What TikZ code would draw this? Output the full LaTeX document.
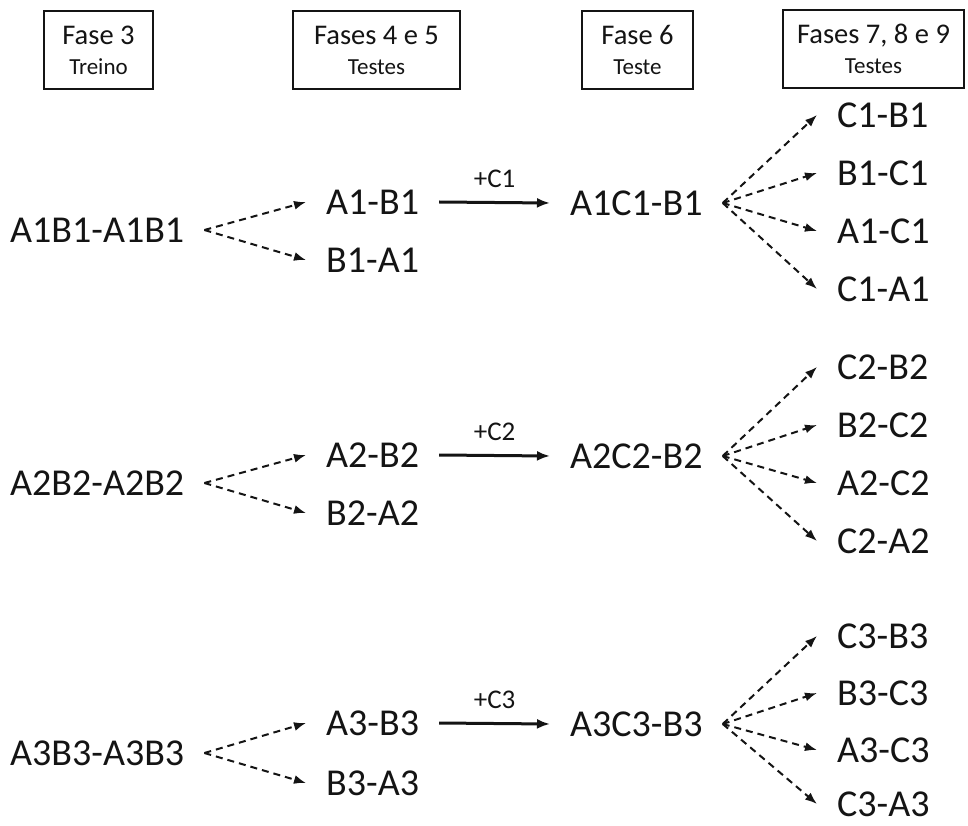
\documentclass[tikz,border=0pt]{standalone}
\usepackage{fontspec}
\setmainfont{Carlito}
\usetikzlibrary{arrows.meta}
\definecolor{ink}{HTML}{141414}
\begin{document}
\begin{tikzpicture}[x=1pt,y=-1pt,
  hdrbox/.style={draw=ink,line width=1.8pt,fill=white},
  hdrbig/.style={font=\fontsize{28.5}{30}\selectfont,text=ink,anchor=base,inner sep=0pt},
  hdrsmall/.style={font=\fontsize{23}{24}\selectfont,text=ink,anchor=base,inner sep=0pt},
  lbl/.style={font=\fontsize{38}{40}\selectfont,text=ink,anchor=west,inner xsep=20pt,inner ysep=0pt},
  addlbl/.style={font=\fontsize{27}{28}\selectfont,text=ink,inner sep=0pt},
  dasharrow/.style={draw=ink,line width=2pt,dash pattern=on 7pt off 5pt,-{Latex[length=12pt,width=9pt]}},
  solidarrow/.style={draw=ink,line width=3pt,-{Latex[length=13pt,width=10pt]}}
]
\useasboundingbox (0,0) rectangle (968,826);

% header boxes
\draw[hdrbox] (44,11) rectangle (153,89);
\node[hdrbig] (h1a) at (98.5,45) {Fase 3};
\node[hdrsmall] (h1b) at (98.5,75) {Treino};
\draw[hdrbox] (293,11) rectangle (460,89);
\node[hdrbig] (h2a) at (376.5,45) {Fases 4 e 5};
\node[hdrsmall] (h2b) at (376.5,75) {Testes};
\draw[hdrbox] (582,11) rectangle (693,89);
\node[hdrbig] (h3a) at (637.5,45) {Fase 6};
\node[hdrsmall] (h3b) at (637.5,75) {Teste};
\draw[hdrbox] (783,10) rectangle (964,88);
\node[hdrbig] (h4a) at (873.5,44) {Fases 7, 8 e 9};
\node[hdrsmall] (h4b) at (873.5,74) {Testes};

\foreach \n/\ys/\yp/\yq/\ym/\ya/\yb/\yc/\yd/\yl in
  {1/230/202/260/203/115/173/231/289/178,
   2/483/455/513/456/367/425/483/541/430,
   3/753/723/783/724/636/693/750/804/698}{
  \node[lbl] (s\n) at (-10,\ys) {A\n B\n-A\n B\n};
  \node[lbl] (p\n) at (306,\yp) {A\n-B\n};
  \node[lbl] (q\n) at (306,\yq) {B\n-A\n};
  \node[lbl] (m\n) at (550,\ym) {A\n C\n-B\n};
  \node[lbl] (ra\n) at (817,\ya) {C\n-B\n};
  \node[lbl] (rb\n) at (817,\yb) {B\n-C\n};
  \node[lbl] (rc\n) at (817,\yc) {A\n-C\n};
  \node[lbl] (rd\n) at (817,\yd) {C\n-A\n};
  \draw[dasharrow] (s\n.east) -- (p\n.west);
  \draw[dasharrow] (s\n.east) -- (q\n.west);
  \draw[solidarrow] (p\n.east) -- (m\n.west)
     node[addlbl,midway,above=13pt] (c\n) {+C\n};
  \draw[dasharrow] (m\n.east) -- (ra\n.west);
  \draw[dasharrow] (m\n.east) -- (rb\n.west);
  \draw[dasharrow] (m\n.east) -- (rc\n.west);
  \draw[dasharrow] (m\n.east) -- (rd\n.west);
}
\end{tikzpicture}
\end{document}
